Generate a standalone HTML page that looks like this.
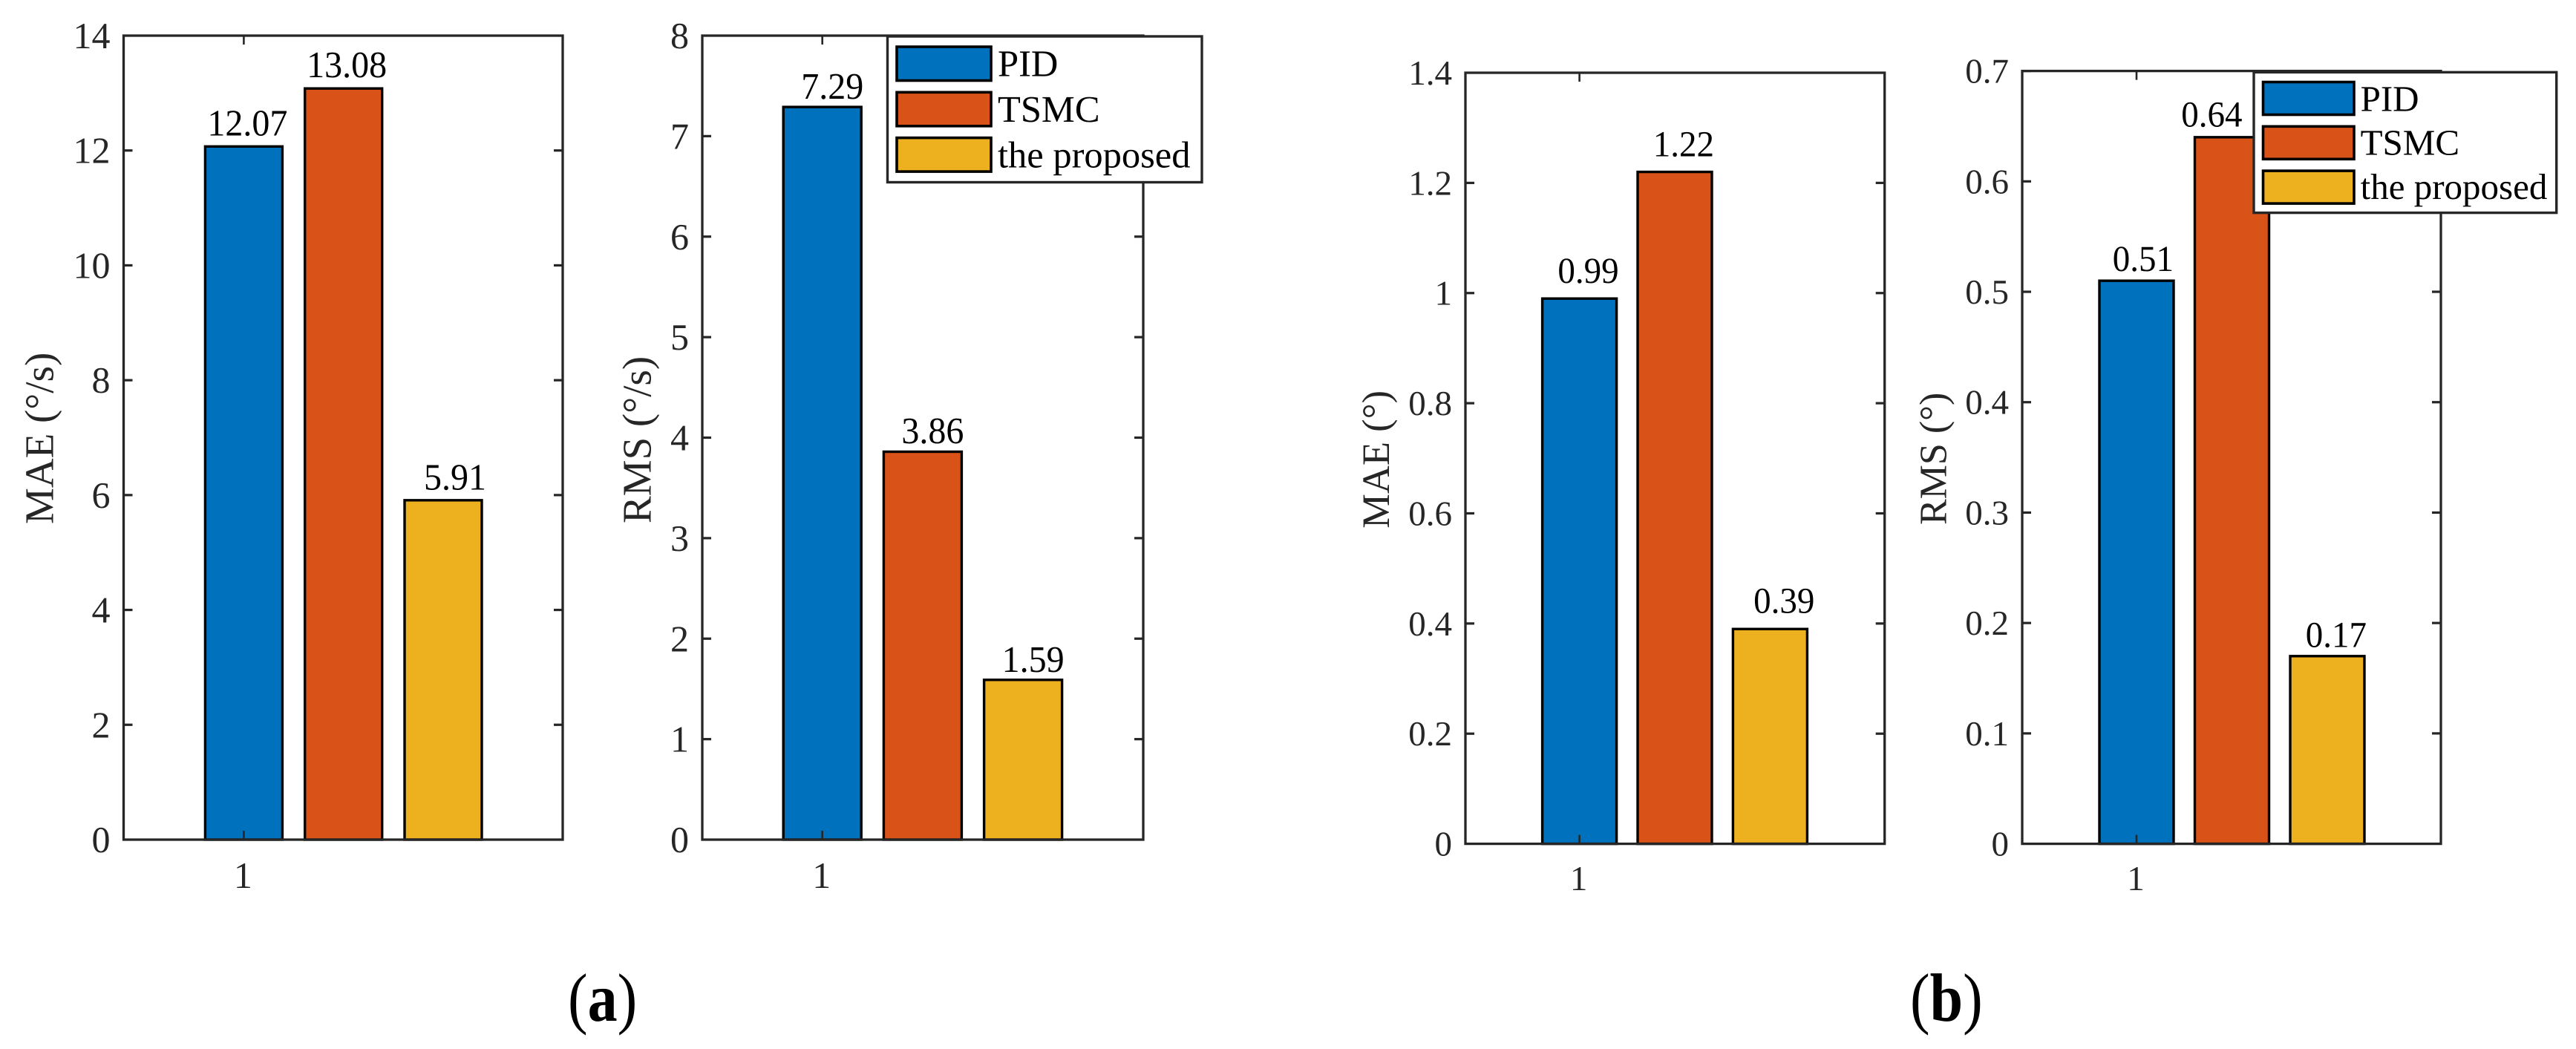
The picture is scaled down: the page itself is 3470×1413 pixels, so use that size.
<!DOCTYPE html>
<html lang="en">
<head>
<meta charset="utf-8">
<title>MAE and RMS comparison of PID, TSMC and the proposed controller</title>
<style>
  html, body { margin: 0; padding: 0; background: #ffffff; }
  svg { display: block; font-family: "Liberation Serif", "Times New Roman", serif; text-rendering: geometricPrecision; }
</style>
</head>
<body>
<svg id="figure" xmlns="http://www.w3.org/2000/svg" width="3470" height="1413" viewBox="0 0 3470 1413">
  <rect x="0" y="0" width="3470" height="1413" fill="#ffffff"/>
  <text transform="translate(765 1375) scale(1 1.15)" font-size="80" fill="#000000">(<tspan font-weight="bold">a</tspan>)</text>
  <text transform="translate(2573 1375) scale(1 1.15)" font-size="80" fill="#000000">(<tspan font-weight="bold">b</tspan>)</text>
</svg>
<script>
// ---- chart data ----
const categories = ["PID", "TSMC", "the proposed"];
const xCategoryLabels = ["1"];
const maeRateValues = [12.07, 13.08, 5.91];
const rmsRateValues = [7.29, 3.86, 1.59];
const maeAngleValues = [0.99, 1.22, 0.39];
const rmsAngleValues = [0.51, 0.64, 0.17];
const maeRateTicks = ["0", "2", "4", "6", "8", "10", "12", "14"];
const rmsRateTicks = ["0", "1", "2", "3", "4", "5", "6", "7", "8"];
const maeAngleTicks = ["0", "0.2", "0.4", "0.6", "0.8", "1", "1.2", "1.4"];
const rmsAngleTicks = ["0", "0.1", "0.2", "0.3", "0.4", "0.5", "0.6", "0.7"];

// ---- styling and layout ----
const seriesColors = ["#0072BD", "#D95319", "#EDB120"];
const axisColor = "#262626";
const svg = document.getElementById("figure");
const NS = "http://www.w3.org/2000/svg";

const panels = [
  { id: "mae-rate", values: maeRateValues, ticks: maeRateTicks,
    left: 166.5, right: 758, top: 48, bottom: 1131,
    firstCenter: 328.4, step: 134.3, barWidth: 104,
    tickFont: 50, labelFont: 48, tickGap: 18, tickBase: 17,
    labelRight: [4, 3.4, 3], labelLift: [13.6, 14, 13.3],
    xLabelBase: 1196, yLabel: ["MAE (", "°", "/s)"], yFont: 55, yLabelX: 71.7, yLabelY: 706 },
  { id: "rms-rate", values: rmsRateValues, ticks: rmsRateTicks,
    left: 946, right: 1540, top: 48, bottom: 1131,
    firstCenter: 1107.7, step: 135.2, barWidth: 105,
    tickFont: 50, labelFont: 48, tickGap: 18, tickBase: 17,
    labelRight: [0, 0, 0], labelLift: [10, 10.5, 10],
    xLabelBase: 1196, yLabel: ["RMS (", "°", "/s)"], yFont: 55, yLabelX: 876.7, yLabelY: 705,
    legend: { x1: 1195.5, x2: 1619, y1: 49, y2: 245.5, patchX1: 1208, patchX2: 1335,
      patchTop: 63, patchH: 45.5, patchStep: 61.3, textX: 1344, textBase: 102.7, textStep: 61.4, font: 50.5 } },
  { id: "mae-angle", values: maeAngleValues, ticks: maeAngleTicks,
    left: 1974, right: 2538.7, top: 98, bottom: 1136.6,
    firstCenter: 2127.6, step: 128.4, barWidth: 100,
    tickFont: 47, labelFont: 47, tickGap: 18, tickBase: 16,
    labelRight: [0, 0, 7], labelLift: [20, 20, 20.6],
    xLabelBase: 1199, yLabel: ["MAE (", "°", ")"], yFont: 52.5, yLabelX: 1871, yLabelY: 711.7 },
  { id: "rms-angle", values: rmsAngleValues, ticks: rmsAngleTicks,
    left: 2724, right: 3288, top: 95.6, bottom: 1136.6,
    firstCenter: 2878, step: 128.5, barWidth: 100,
    tickFont: 47, labelFont: 47, tickGap: 18, tickBase: 16,
    labelRight: [-3, -39, 0], labelLift: [12, 13.5, 11.4],
    xLabelBase: 1199, yLabel: ["RMS (", "°", ")"], yFont: 52, yLabelX: 2621.7, yLabelY: 707,
    legend: { x1: 3036, x2: 3443.7, y1: 97.3, y2: 286.6, patchX1: 3048.5, patchX2: 3171,
      patchTop: 110.5, patchH: 44, patchStep: 59.8, textX: 3179.6, textBase: 149.5, textStep: 59.2, font: 49 } }
];

// ---- axis functions ----
function yScale(panel, value) {
  const max = Number(panel.ticks[panel.ticks.length - 1]);
  return panel.bottom - (value / max) * (panel.bottom - panel.top);
}
function xScale(panel, index) {
  return panel.firstCenter + index * panel.step;
}

function make(tag) {
  return document.createElementNS(NS, tag);
}
function setAttrs(el, attrs) {
  Object.keys(attrs).forEach(function (k) { el.setAttribute(k, attrs[k]); });
  return el;
}
function drawLine(el, x1, y1, x2, y2, width) {
  setAttrs(el, { x1: x1, y1: y1, x2: x2, y2: y2, stroke: axisColor, "stroke-width": width });
  svg.appendChild(el);
}

panels.forEach(function (p) {
  // bars
  p.values.forEach(function (value, i) {
    const bar = make("rect");
    
    
    const y = yScale(p, value);
    setAttrs(bar, { x: xScale(p, i) - p.barWidth / 2, y: y, width: p.barWidth, height: p.bottom - y,
      fill: seriesColors[i], stroke: "#000000", "stroke-width": 3.4 });
    svg.appendChild(bar);
  });

  // plot frame
  const frame = make("rect");
  
  
  setAttrs(frame, { x: p.left, y: p.top, width: p.right - p.left, height: p.bottom - p.top,
    fill: "none", stroke: axisColor, "stroke-width": 3.3 });
  svg.appendChild(frame);

  // y ticks and labels
  p.ticks.forEach(function (label) {
    const y = yScale(p, Number(label));
    const isEnd = Number(label) === 0 || y === p.top;
    if (!isEnd) {
      const tl = make("line");
      
      
      drawLine(tl, p.left, y, p.left + 12, y, 3.2);
      const tr = make("line");
      
      
      drawLine(tr, p.right, y, p.right - 12, y, 3.2);
    }
    const t = make("text");
    
    
    setAttrs(t, { x: p.left - p.tickGap, y: y + p.tickBase, "text-anchor": "end",
      "font-size": p.tickFont, fill: axisColor });
    t.textContent = label;
    svg.appendChild(t);
  });

  // x ticks and label
  xCategoryLabels.forEach(function (label, i) {
    const x = xScale(p, i);
    const bt = make("line");
    
    
    drawLine(bt, x, p.bottom, x, p.bottom - 12, 2.6);
    const tt = make("line");
    
    
    drawLine(tt, x, p.top, x, p.top + 12, 2.6);
    const t = make("text");
    
    
    setAttrs(t, { x: x - 1, y: p.xLabelBase, "text-anchor": "middle", "font-size": p.tickFont, fill: axisColor });
    t.textContent = label;
    svg.appendChild(t);
  });

  // value labels
  p.values.forEach(function (value, i) {
    const t = make("text");
    
    
    const lx = xScale(p, i) + p.barWidth / 2 + 3 + p.labelRight[i];
    const ly = yScale(p, value) - p.labelLift[i] - 1;
    setAttrs(t, { transform: "translate(" + lx + " " + ly + ") scale(1 1.05)",
      "text-anchor": "end", "font-size": p.labelFont, fill: "#000000" });
    t.textContent = value.toFixed(2);
    svg.appendChild(t);
  });

  // y-axis title
  const title = make("text");
  
  
  setAttrs(title, { transform: "translate(" + p.yLabelX + " " + p.yLabelY + ") rotate(-90)",
    "font-size": p.yFont, fill: axisColor });
  title.appendChild(document.createTextNode(p.yLabel[0]));
  const deg = make("tspan");
  deg.textContent = p.yLabel[1];
  title.appendChild(deg);
  title.appendChild(document.createTextNode(p.yLabel[2]));
  svg.appendChild(title);

  // legend
  if (p.legend) {
    const L = p.legend;
    const box = make("rect");
    
    
    setAttrs(box, { x: L.x1, y: L.y1, width: L.x2 - L.x1, height: L.y2 - L.y1,
      fill: "#ffffff", stroke: axisColor, "stroke-width": 3.4 });
    svg.appendChild(box);
    categories.forEach(function (name, i) {
      const patch = make("rect");
      
      
      setAttrs(patch, { x: L.patchX1, y: L.patchTop + i * L.patchStep, width: L.patchX2 - L.patchX1, height: L.patchH,
        fill: seriesColors[i], stroke: "#000000", "stroke-width": 3.6 });
      svg.appendChild(patch);
      const t = make("text");
      
      
      setAttrs(t, { x: L.textX, y: L.textBase + i * L.textStep, "font-size": L.font, fill: "#000000" });
      t.textContent = name;
      svg.appendChild(t);
    });
  }
});
</script>
</body>
</html>
